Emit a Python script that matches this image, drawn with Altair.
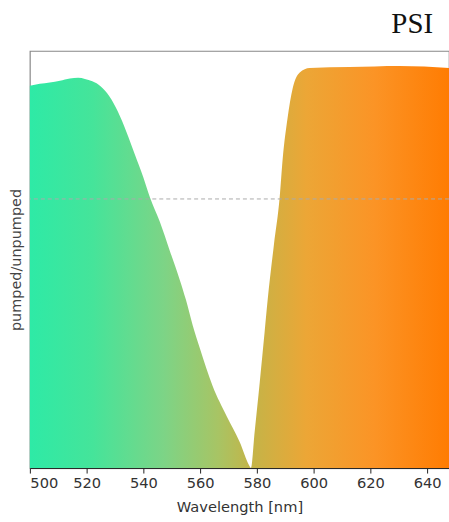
import altair as alt
import pandas as pd

# Pump-probe transmission ratio across the visible band
wavelength_nm = [500.0, 503.5, 507.0, 510.6, 514.1, 517.0, 519.4, 522.0, 525.0, 528.0,
                 531.0, 534.0, 537.0, 540.0, 542.3, 545.8, 549.3, 552.8, 555.0, 557.4,
                 559.9, 564.4, 569.4, 573.9, 577.3, 577.9, 579.2, 581.0, 582.7, 583.8,
                 586.0, 588.0, 589.1, 590.8, 592.6, 595.1, 598.6, 612.7, 630.3, 647.7]
ratio = [1.421, 1.428, 1.433, 1.439, 1.448, 1.450, 1.446, 1.437, 1.418, 1.382,
         1.325, 1.250, 1.165, 1.080, 1.006, 0.915, 0.808, 0.700, 0.625, 0.530,
         0.445, 0.305, 0.192, 0.098, 0.010, 0.0, 0.133, 0.318, 0.503, 0.625,
         0.830, 1.003, 1.150, 1.300, 1.410, 1.470, 1.487, 1.490, 1.494, 1.487]

x_ticks = [500, 520, 540, 560, 580, 600, 620, 640]
reference_level = [1.0]
corner_label = ["PSI"]

X_DOMAIN = [500, 647.7]
Y_DOMAIN = [0, 1.55]

spectrum = pd.DataFrame({"wavelength": wavelength_nm, "ratio": ratio})

x_enc = alt.X(
    "wavelength:Q",
    scale=alt.Scale(domain=X_DOMAIN, nice=False, zero=False),
    axis=alt.Axis(
        title="Wavelength [nm]",
        values=x_ticks,
        format="d",
        grid=False,
        domainColor="#222222",
        tickColor="#222222",
        tickSize=5,
        labelFont="DejaVu Sans",
        labelFontSize=14.7,
        labelColor="#333333",
        labelPadding=3,
        titleFont="DejaVu Sans",
        titleFontSize=14.7,
        titleFontWeight="normal",
        titleColor="#333333",
        titlePadding=9,
    ),
)
y_enc = alt.Y(
    "ratio:Q",
    scale=alt.Scale(domain=Y_DOMAIN, nice=False),
    axis=alt.Axis(
        title="pumped/unpumped",
        labels=False,
        ticks=False,
        domain=False,
        grid=False,
        titleFont="DejaVu Sans",
        titleFontSize=14.5,
        titleFontWeight="normal",
        titleColor="#444444",
        titlePadding=6,
    ),
)

spectral_fill = alt.Gradient(
    gradient="linear",
    x1=0, x2=1, y1=0, y2=0,
    stops=[
        alt.GradientStop(offset=0.0, color="#2eeaa6"),
        alt.GradientStop(offset=0.15, color="#45e49a"),
        alt.GradientStop(offset=0.32, color="#7dd486"),
        alt.GradientStop(offset=0.45, color="#a8c464"),
        alt.GradientStop(offset=0.53, color="#c4b448"),
        alt.GradientStop(offset=0.66, color="#eca636"),
        alt.GradientStop(offset=0.82, color="#fb9426"),
        alt.GradientStop(offset=1.0, color="#ff7c02"),
    ],
)

area = alt.Chart(spectrum).mark_area(
    interpolate="monotone", color=spectral_fill, line=False
).encode(x=x_enc, y=y_enc)

level = alt.Chart(pd.DataFrame({"level": reference_level})).mark_rule(
    color="#aaaaaa", strokeDash=[4, 3], strokeWidth=1
).encode(y=alt.Y("level:Q", scale=alt.Scale(domain=Y_DOMAIN, nice=False)))

label = alt.Chart(pd.DataFrame({"text": corner_label})).mark_text(
    font="Liberation Serif", fontSize=29, color="#111111",
    align="right", baseline="alphabetic"
).encode(text="text:N", x=alt.value(405), y=alt.value(-18))

chart = (
    alt.layer(area, level, label)
    .properties(
        width=421,
        height=419,
        padding={"left": 30, "top": 50, "right": 0, "bottom": 53},
        autosize=alt.AutoSizeParams(type="none"),
        background="white",
    )
    .configure_view(stroke="#888888", strokeWidth=1.2)
)

chart.save("out.html", embed_options={"renderer": "svg", "actions": False})
